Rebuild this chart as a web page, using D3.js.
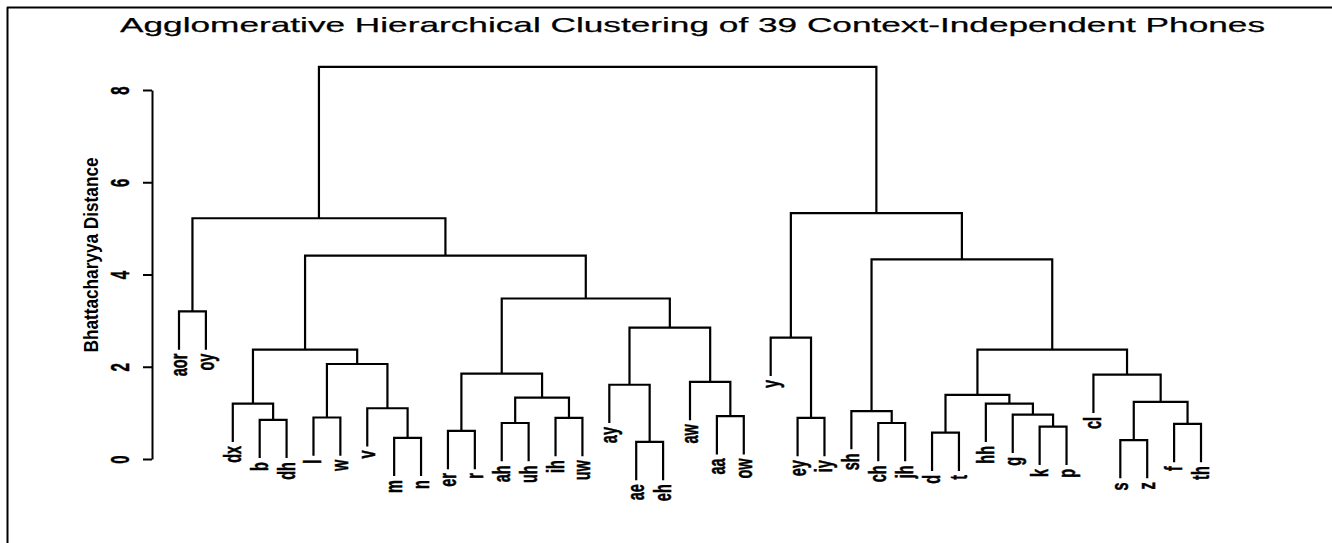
<!DOCTYPE html>
<html><head><meta charset="utf-8">
<script src="https://cdn.jsdelivr.net/npm/d3@7"></script>
<style>body{margin:0;background:#fff} svg{display:block}</style>
</head><body><svg id="c" width="1332" height="543"></svg>
<script>
const titleText = "Agglomerative Hierarchical Clustering of 39 Context-Independent Phones";
const yAxisLabel = "Bhattacharyya Distance";
const yTicks = [0, 2, 4, 6, 8];
const leaves = ["aor","oy","dx","b","dh","l","w","v","m","n","er","r","ah","uh","ih","uw",
  "ay","ae","eh","aw","aa","ow","y","ey","iy","sh","ch","jh","d","t","hh","g","k","p",
  "cl","s","z","f","th"];
// merge steps (hclust style): a name is a leaf, "#k" refers to merge step k (1-based)
const mergeLeft  = ["aor","b","dx","l","m","v","#4","#3","er","ah","ih","#10","#9","ae","ay","aa","aw","#15","#13","#8","#1",
  "ey","y","ch","sh","d","k","g","hh","#26","s","f","#31","cl","#30","#25","#23","#21"];
const mergeRight = ["oy","dh","#2","w","n","#5","#6","#7","r","uh","uw","#11","#12","eh","#14","ow","#16","#17","#18","#19","#20",
  "iy","#22","jh","#24","t","p","#27","#28","#29","z","th","#32","#33","#34","#35","#36","#37"];
const mergeHeight = [3.2,0.85,1.2,0.9,0.46,1.1,2.06,2.37,0.61,0.78,0.89,1.33,1.85,0.37,1.61,0.93,1.67,2.85,3.48,4.41,5.22,
  0.89,2.63,0.78,1.04,0.57,0.7,0.96,1.2,1.39,0.41,0.76,1.24,1.83,2.37,4.33,5.33,8.5];
const hang = 0.83;

const svg = d3.select("#c");
const narrow = "'Liberation Sans Narrow','Arial Narrow','Liberation Sans',Arial,sans-serif";

const x = d3.scalePoint().domain(leaves).range([179, 1201]);
const y = d3.scaleLinear().domain([0, 8]).range([459, 90]);

// frame lines
svg.append("line").attr("x1", 7).attr("x2", 1332).attr("y1", 7.5).attr("y2", 7.5).attr("stroke", "#000").attr("stroke-width", 2);
svg.append("line").attr("x1", 7.5).attr("x2", 7.5).attr("y1", 7).attr("y2", 543).attr("stroke", "#000").attr("stroke-width", 2);

// title
svg.append("text").attr("x", 120).attr("y", 32)
  .attr("textLength", 1145).attr("lengthAdjust", "spacingAndGlyphs")
  .style("font-family", "'Liberation Sans',Arial,sans-serif").style("font-size", "21px")
  .attr("stroke", "#000").attr("stroke-width", 0.25)
  .text(titleText);

// build tree
const leafNodes = new Map(leaves.map(n => [n, {name: n, x: x(n), h: 0, leaf: true}]));
const mergeNodes = [];
function ref(r) { return r.startsWith("#") ? mergeNodes[+r.slice(1) - 1] : leafNodes.get(r); }
mergeHeight.forEach((h, i) => {
  const a = ref(mergeLeft[i]), b = ref(mergeRight[i]);
  mergeNodes.push({a, b, h, x: (a.x + b.x) / 2});
});

function bottom(child, parentH) { return child.leaf ? y(parentH - hang) : y(child.h); }

svg.append("g").selectAll("path").data(mergeNodes).join("path")
  .attr("fill", "none").attr("stroke", "#000").attr("stroke-width", 2.2)
  .attr("d", m => `M${m.a.x},${bottom(m.a, m.h)}V${y(m.h)}H${m.b.x}V${bottom(m.b, m.h)}`);

// leaf labels
const leafEnd = new Map();
mergeNodes.forEach(m => {
  [m.a, m.b].forEach(c => { if (c.leaf) leafEnd.set(c.name, y(m.h - hang)); });
});
svg.append("g").selectAll("text").data(leaves).join("text")
  .attr("transform", d => `translate(${x(d) + 8},${leafEnd.get(d) + 4}) scale(1.65,1) rotate(-90)`)
  .attr("text-anchor", "end")
  .style("font-family", narrow).style("font-weight", "bold").style("font-size", "14.5px")
  .attr("stroke", "#000").attr("stroke-width", 0.3)
  .text(d => d);

// y axis
const ax = svg.append("g").attr("transform", "translate(152,0)")
  .call(d3.axisLeft(y).tickValues(yTicks).tickSize(9).tickSizeOuter(0).tickFormat(d3.format("d")));
ax.select(".domain").attr("stroke-width", 2);
ax.selectAll(".tick line").attr("stroke-width", 2);
ax.selectAll(".tick text")
  .attr("x", null).attr("dy", null)
  .attr("transform", "translate(-23,0) scale(1.7,1) rotate(-90)")
  .attr("text-anchor", "middle")
  .style("font-family", narrow).style("font-weight", "bold").style("font-size", "15px")
  .attr("stroke", "#000").attr("stroke-width", 0.3).attr("fill", "#000");

svg.append("text")
  .attr("transform", "translate(98,255) scale(1.45,1) rotate(-90)")
  .attr("text-anchor", "middle").attr("textLength", 195).attr("lengthAdjust", "spacingAndGlyphs")
  .style("font-family", narrow).style("font-weight", "bold").style("font-size", "13.5px")
  .text(yAxisLabel);
</script></body></html>
